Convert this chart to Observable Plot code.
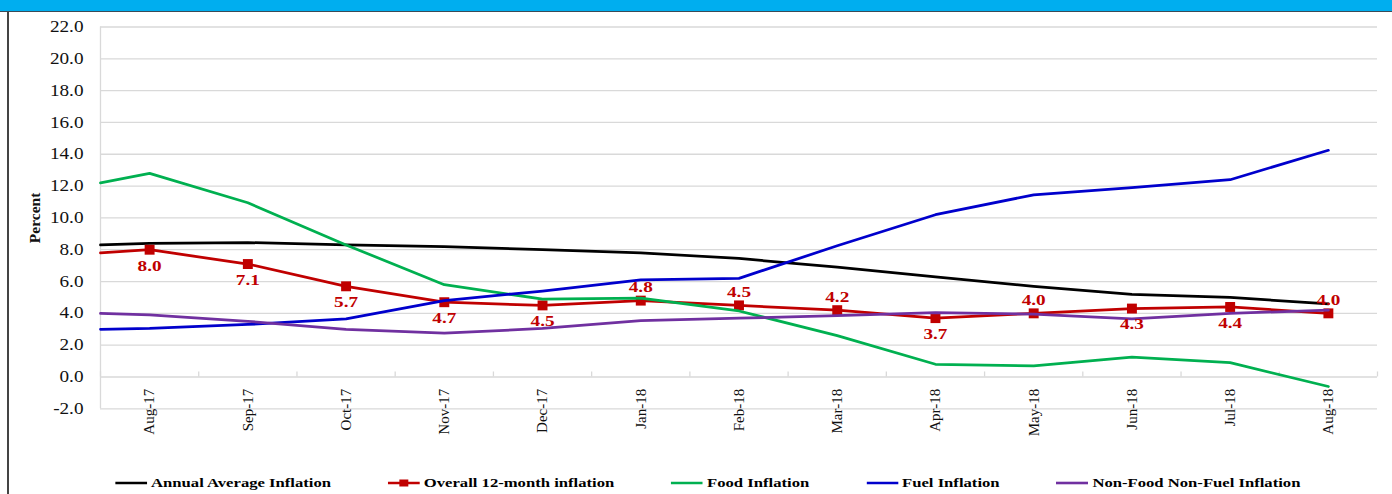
<!DOCTYPE html>
<html>
<head>
<meta charset="utf-8">
<script src="https://cdn.jsdelivr.net/npm/d3@7"></script>
<script src="https://cdn.jsdelivr.net/npm/@observablehq/plot@0.6"></script>
<style>
  html, body { margin: 0; padding: 0; background: #fff; }
  body { width: 1392px; height: 494px; overflow: hidden; position: relative;
         font-family: "Liberation Serif", "Times New Roman", serif; }
  #topbar { height: 11px; background: #00AEEF; border-bottom: 1px solid #3b4b57; }
  #leftborder { position: absolute; left: 7px; top: 12px; bottom: 0; width: 1.5px; background: #444; }
  #chart { height: 460px; }
  #chart svg { display: block; }
  #legend { margin-top: 3px; height: 16px; width: 1088px; transform: scaleX(1.28); transform-origin: 0 0;
            display: flex; align-items: center; padding-left: 90px; gap: 44.5px;
            font-weight: bold; font-size: 13px; color: #000; white-space: nowrap; }
  #legend .item { display: flex; align-items: center; gap: 3px; }
  #legend svg { display: block; }
</style>
</head>
<body>
<div id="topbar"></div>
<div id="chart"></div>
<div id="legend"></div>
<div id="leftborder"></div>
<script>
// ---------- data ----------
const months = ["Aug-17","Sep-17","Oct-17","Nov-17","Dec-17","Jan-18","Feb-18","Mar-18","Apr-18","May-18","Jun-18","Jul-18","Aug-18"];
const seriesNames = ["Annual Average Inflation","Overall 12-month inflation","Food Inflation","Fuel Inflation","Non-Food Non-Fuel Inflation"];
const seriesColors = ["#000000","#C00000","#00B050","#0000CC","#7030A0"];
const annualAverage  = [8.4, 8.45, 8.3, 8.2, 8.0, 7.8, 7.45, 6.9, 6.3, 5.7, 5.2, 5.0, 4.6];
const overall12Month = [8.0, 7.1, 5.7, 4.7, 4.5, 4.8, 4.5, 4.2, 3.7, 4.0, 4.3, 4.4, 4.0];
const foodInflation  = [12.8, 10.95, 8.3, 5.8, 4.9, 4.95, 4.15, 2.6, 0.8, 0.7, 1.25, 0.9, -0.6];
const fuelInflation  = [3.05, 3.3, 3.65, 4.8, 5.4, 6.1, 6.2, 8.25, 10.2, 11.45, 11.9, 12.4, 14.25];
const nonFoodNonFuel = [3.9, 3.5, 3.0, 2.75, 3.05, 3.55, 3.7, 3.85, 4.05, 3.95, 3.65, 4.0, 4.2];
// value at which each line enters the plot at its left edge
const leadingEdgeValues = [8.3, 7.8, 12.2, 3.0, 4.0];
const labelSide = ["below","below","below","below","below","above","above","above","below","above","below","below","above"];
const yTicks = [-2, 0, 2, 4, 6, 8, 10, 12, 14, 16, 18, 20, 22];

// ---------- build ----------
const allValues = [annualAverage, overall12Month, foodInflation, fuelInflation, nonFoodNonFuel];
const xDomain = [-0.5, months.length - 0.5];
const bounds = d3.range(months.length + 1).map(i => i - 0.5);
const serif = "'Liberation Serif', 'Times New Roman', serif";

const lineMarks = [];
allValues.forEach((vals, s) => {
  const rows = [{x: xDomain[0], v: leadingEdgeValues[s]}, ...vals.map((v, i) => ({x: i, v}))];
  lineMarks.push(Plot.line(rows, {x: "x", y: "v", stroke: seriesColors[s], strokeWidth: 2.75, strokeLinejoin: "round"}));
  if (s === 1) {
    lineMarks.push(Plot.dot(vals, {x: (d, i) => i, y: d => d, symbol: "square", r: 5.6, fill: seriesColors[1], stroke: "none"}));
  }
});

const labelRows = overall12Month.map((v, i) => ({i, v, side: labelSide[i]}));

const chart = Plot.plot({
  width: 1392,
  height: 460,
  marginLeft: 100,
  marginRight: 15,
  marginTop: 14.5,
  marginBottom: 63.7,
  style: {fontFamily: serif, background: "transparent", overflow: "visible"},
  x: {domain: xDomain, axis: null},
  y: {domain: [-2, 22], axis: null},
  marks: [
    Plot.gridY(yTicks, {stroke: "#d9d9d9", strokeOpacity: 1, strokeWidth: 1.3}),
    Plot.ruleX([xDomain[0]], {y1: -2, y2: 22, stroke: "#d9d9d9", strokeWidth: 1.3}),
    Plot.ruleX(bounds, {x: d => d, y1: 0, y2: 0, insetTop: -5, stroke: "#d9d9d9", strokeWidth: 1.3}),
    Plot.axisY(yTicks, {tickSize: 0, tickPadding: 17, tickFormat: d => d.toFixed(1), fontSize: 16, label: null, fill: "#111"}),
    Plot.text(months, {x: (d, i) => i, y: () => -2, text: d => d, rotate: -90, textAnchor: "end", dy: -20, fontSize: 15, fill: "#111"}),
    Plot.text(["Percent"], {frameAnchor: "left", textAnchor: "middle", text: d => d, dx: -65, rotate: -90, fontWeight: "bold", fontSize: 15.5, fill: "#111"}),
    ...lineMarks,
    Plot.text(labelRows.filter(d => d.side === "below"), {x: "i", y: "v", text: d => d.v.toFixed(1), dy: 16, fontWeight: "bold", fontSize: 15, fill: seriesColors[1]}),
    Plot.text(labelRows.filter(d => d.side === "above"), {x: "i", y: "v", text: d => d.v.toFixed(1), dy: -13, fontWeight: "bold", fontSize: 15, fill: seriesColors[1]})
  ]
});
document.getElementById("chart").appendChild(chart);

// horizontal widening of glyphs (the reference text is drawn wider than normal)
function widenText(sel, k) {
  sel.each(function() {
    const len = this.getComputedTextLength();
    if (len > 0) {
      this.setAttribute("textLength", (len * k).toFixed(2));
      this.setAttribute("lengthAdjust", "spacingAndGlyphs");
    }
  });
}
widenText(d3.select(chart).selectAll('g[aria-label="y-axis tick label"] text'), 1.2);
widenText(d3.select(chart).selectAll(`g[fill="${seriesColors[1]}"] text`), 1.28);

// ---------- legend ----------
const legend = d3.select("#legend");
seriesNames.forEach((name, s) => {
  const item = legend.append("div").attr("class", "item");
  const sw = item.append("svg").attr("width", 25).attr("height", 10);
  sw.append("line").attr("x1", 0).attr("x2", 25).attr("y1", 5).attr("y2", 5)
    .attr("stroke", seriesColors[s]).attr("stroke-width", 2.6);
  if (s === 1) sw.append("rect").attr("x", 9).attr("y", 1.5).attr("width", 7).attr("height", 7).attr("fill", seriesColors[s]);
  item.append("span").text(name);
});
</script>
</body>
</html>
